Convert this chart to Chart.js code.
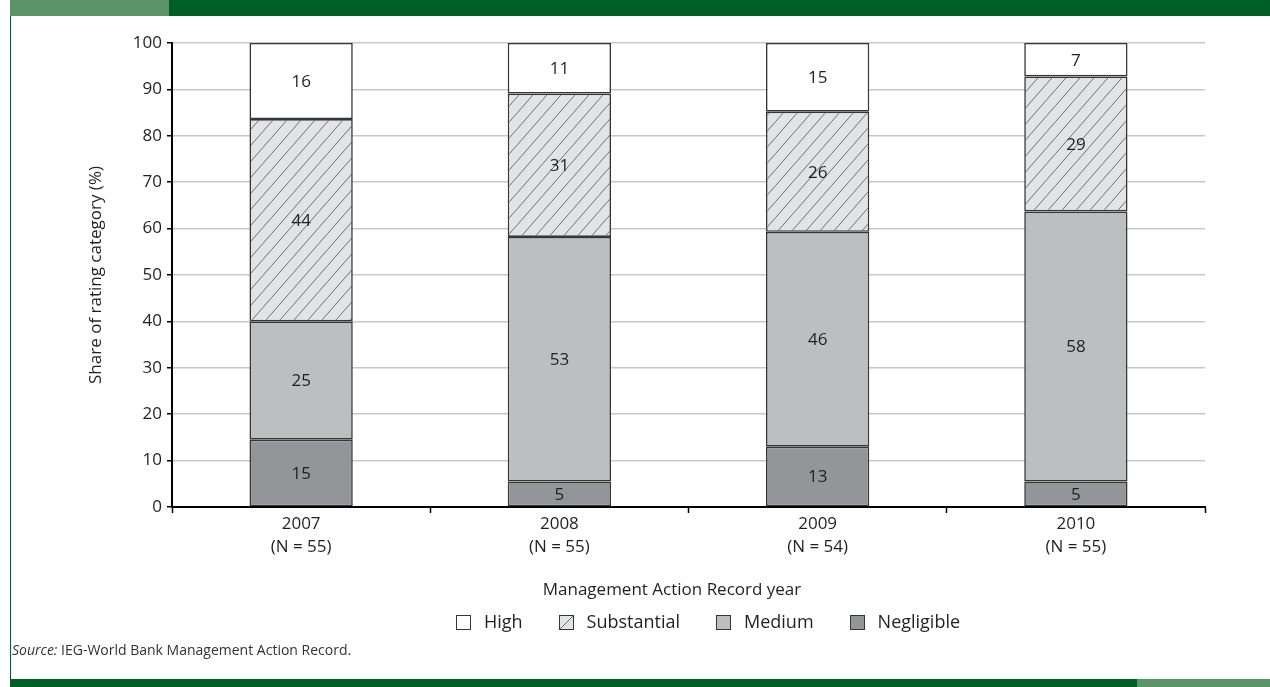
<!DOCTYPE html>
<html><head><meta charset="utf-8">
<script src="https://cdn.jsdelivr.net/npm/chart.js@4/dist/chart.umd.min.js"></script>
<style>
html,body{margin:0;padding:0;background:#fff;width:1270px;height:687px;overflow:hidden}
#wrap{position:relative;width:1270px;height:687px}
canvas{position:absolute;left:0;top:0}
.band{position:absolute}
#src{position:absolute;left:12px;top:640px;font:14px "Open Sans",sans-serif;color:#333;white-space:nowrap}
</style></head><body>
<div id="wrap">
<canvas id="c" width="1270" height="687"></canvas>
<div class="band" style="left:10px;top:0;width:1260px;height:16px;background:#005f27"></div>
<div class="band" style="left:10px;top:0;width:159px;height:16px;background:#5b9467"></div>
<div class="band" style="left:10px;top:16px;width:1px;height:663px;background:#006028"></div>
<div class="band" style="left:10px;top:679px;width:1260px;height:8px;background:#005f27"></div>
<div class="band" style="left:1137px;top:679px;width:133px;height:8px;background:#5b9467"></div>
<div id="src"><i>Source:</i> IEG-World Bank Management Action Record.</div>
</div>
<script>
// ---- data ----
const years = ['2007', '2008', '2009', '2010'];
const nCounts = ['(N = 55)', '(N = 55)', '(N = 54)', '(N = 55)'];
const seriesNames = ['Negligible', 'Medium', 'Substantial', 'High'];
const negligible = [14.5, 5.5, 13.0, 5.5];
const medium = [25.5, 52.7, 46.3, 58.2];
const substantial = [43.6, 30.9, 25.9, 29.1];
const high = [16.4, 10.9, 14.8, 7.2];
const negligibleLabels = ['15', '5', '13', '5'];
const mediumLabels = ['25', '53', '46', '58'];
const substantialLabels = ['44', '31', '26', '29'];
const highLabels = ['16', '11', '15', '7'];
const yTicks = [0, 10, 20, 30, 40, 50, 60, 70, 80, 90, 100];
const xTitle = 'Management Action Record year';
const yTitle = 'Share of rating category (%)';

const FONT = '"Open Sans", sans-serif';
const TXT = '#231f20';
const EDGE = '#363636';

function makeHatch() {
  const w = 14, h = 16;
  const c = document.createElement('canvas');
  c.width = w; c.height = h;
  const g = c.getContext('2d');
  g.fillStyle = '#e2e3e4';
  g.fillRect(0, 0, w, h);
  g.strokeStyle = '#6f6f72';
  g.lineWidth = 1;
  for (let k = -1; k <= 1; k++) {
    g.beginPath();
    g.moveTo(k * w, h);
    g.lineTo(k * w + w, 0);
    g.stroke();
  }
  return document.getElementById('c').getContext('2d').createPattern(c, 'repeat');
}
const hatch = makeHatch();

const labelsPlugin = {
  id: 'segLabels',
  afterDatasetsDraw(chart) {
    const ctx = chart.ctx;
    ctx.save();
    ctx.font = '17px ' + FONT;
    ctx.fillStyle = TXT;
    ctx.textAlign = 'center';
    ctx.textBaseline = 'middle';
    chart.data.datasets.forEach((ds, i) => {
      const meta = chart.getDatasetMeta(i);
      meta.data.forEach((bar, j) => {
        const p = bar.getProps(['x', 'y', 'base'], true);
        ctx.fillText(ds.valueLabels[j], p.x, (p.y + p.base) / 2 + 1);
      });
    });
    ctx.restore();
  }
};

const extrasPlugin = {
  id: 'extras',
  afterDraw(chart) {
    const ctx = chart.ctx;
    ctx.save();
    ctx.font = '17px ' + FONT;
    ctx.fillStyle = TXT;
    ctx.textAlign = 'center';
    ctx.textBaseline = 'middle';
    ctx.fillText(xTitle, 672, 590);
    // legend
    ctx.font = '18px ' + FONT;
    const items = chart.data.datasets.slice().reverse();
    const box = 14, textOff = 28, gap = 36;
    const widths = items.map(d => ctx.measureText(d.label).width);
    let total = 0;
    widths.forEach((w, i) => { total += textOff + w + (i < items.length - 1 ? gap : 0); });
    let x = 708 - total / 2;
    const yc = 622;
    ctx.textAlign = 'left';
    items.forEach((d, i) => {
      const bx = Math.round(x) + 0.5, by = Math.round(yc - box / 2) + 0.5;
      ctx.fillStyle = d.legendFill;
      ctx.fillRect(bx, by, box, box);
      if (d.legendHatch) {
        ctx.strokeStyle = '#6f6f72';
        ctx.lineWidth = 1;
        ctx.beginPath();
        ctx.moveTo(bx, by + box);
        ctx.lineTo(bx + box, by);
        ctx.stroke();
      }
      ctx.strokeStyle = EDGE;
      ctx.lineWidth = 1;
      ctx.strokeRect(bx, by, box, box);
      ctx.fillStyle = TXT;
      ctx.fillText(d.label, x + textOff, yc + 1);
      x += textOff + widths[i] + gap;
    });
    ctx.restore();
  }
};

const ctx = document.getElementById('c').getContext('2d');
new Chart(ctx, {
  type: 'bar',
  data: {
    labels: years.map((y, i) => [y, nCounts[i]]),
    datasets: [
      { label: seriesNames[0], data: negligible, valueLabels: negligibleLabels, backgroundColor: '#939598', legendFill: '#939598' },
      { label: seriesNames[1], data: medium, valueLabels: mediumLabels, backgroundColor: '#bcbec0', legendFill: '#bcbec0' },
      { label: seriesNames[2], data: substantial, valueLabels: substantialLabels, backgroundColor: hatch, legendFill: '#e2e3e4', legendHatch: true },
      { label: seriesNames[3], data: high, valueLabels: highLabels, backgroundColor: '#ffffff', legendFill: '#ffffff' }
    ].map(d => Object.assign(d, { borderColor: EDGE, borderWidth: 1.6, borderSkipped: false, barPercentage: 0.4, categoryPercentage: 1 }))
  },
  options: {
    responsive: false,
    animation: false,
    events: [],
    layout: { padding: { left: 86, right: 65, top: 43, bottom: 110 } },
    plugins: { legend: { display: false }, tooltip: { enabled: false } },
    scales: {
      x: {
        stacked: true,
        offset: true,
        afterFit(s) { s.height = 70; },
        grid: { offset: true, drawOnChartArea: false, drawTicks: true, tickLength: 6, tickColor: '#000', tickWidth: 1.5 },
        border: { color: '#000', width: 2 },
        ticks: { color: TXT, font: { family: FONT, size: 17, lineHeight: 1.35 }, padding: 0, maxRotation: 0 }
      },
      y: {
        stacked: true,
        min: 0, max: 100,
        afterFit(s) { s.width = 86; },
        afterBuildTicks(s) { s.ticks = yTicks.map(v => ({ value: v })); },
        grid: { color: '#c8c8c8', lineWidth: 1.5, drawTicks: true, tickLength: 5, tickColor: '#000', tickWidth: 1.5 },
        border: { color: '#000', width: 2 },
        ticks: { color: TXT, font: { family: FONT, size: 17 }, padding: 5 },
        title: { display: true, text: yTitle, color: TXT, font: { family: FONT, size: 17 }, padding: { top: 0, bottom: 0 } }
      }
    }
  },
  plugins: [labelsPlugin, extrasPlugin]
});
</script>
</body></html>
